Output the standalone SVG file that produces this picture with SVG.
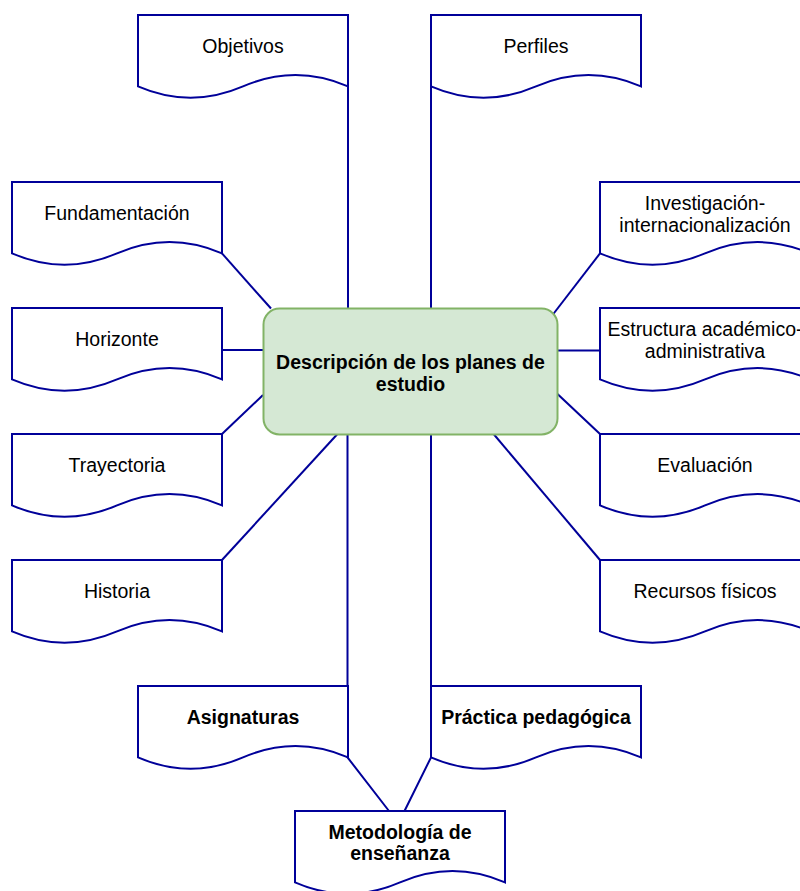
<svg xmlns="http://www.w3.org/2000/svg" xmlns:xlink="http://www.w3.org/1999/xlink" width="800" height="891" viewBox="0 0 800 891">
  <style>
    .doc { fill: #ffffff; stroke: #000099; stroke-width: 2; }
    .edge { fill: none; stroke: #000099; stroke-width: 2; }
    .lbl { font-family: "Liberation Sans", Arial, Helvetica, sans-serif; font-size: 19.5px; fill: #000000; text-anchor: middle; }
    .bold { font-weight: bold; }
    .center { fill: #d5e8d4; stroke: #82b366; stroke-width: 2; }
  </style>
  <defs>
    <!-- document shape: 210 x 84 with wavy bottom edge -->
    <path id="doc" d="M0,0 H210 V71.4 Q157.5,48.7 105,71.4 Q52.5,94.1 0,71.4 Z"/>
  </defs>
  <rect width="800" height="891" fill="#ffffff"/>

  <g id="connectors">
    <path class="edge" d="M348,86.4 V308.5"/>
    <path class="edge" d="M431,86.4 V308.5"/>
    <path class="edge" d="M222,253.4 L271,308.5"/>
    <path class="edge" d="M222,350 H263.5"/>
    <path class="edge" d="M222,434 L263,395"/>
    <path class="edge" d="M222,560 L337,434.5"/>
    <path class="edge" d="M347.5,434.5 V757.4 L389,811"/>
    <path class="edge" d="M431,434.5 V757.4 L404.5,811"/>
    <path class="edge" d="M600,253.4 L551,317"/>
    <path class="edge" d="M557.5,350.5 H600"/>
    <path class="edge" d="M557.5,394 L600,434"/>
    <path class="edge" d="M494,434.5 L600,560"/>
  </g>

  <g id="objetivos">
    <use href="#doc" class="doc" x="138" y="15"/>
    <text class="lbl" x="243" y="53">Objetivos</text>
  </g>
  <g id="perfiles">
    <use href="#doc" class="doc" x="431" y="15"/>
    <text class="lbl" x="536" y="53">Perfiles</text>
  </g>
  <g id="fundamentacion">
    <use href="#doc" class="doc" x="12" y="182"/>
    <text class="lbl" x="117" y="220">Fundamentación</text>
  </g>
  <g id="horizonte">
    <use href="#doc" class="doc" x="12" y="308"/>
    <text class="lbl" x="117" y="346">Horizonte</text>
  </g>
  <g id="trayectoria">
    <use href="#doc" class="doc" x="12" y="434"/>
    <text class="lbl" x="117" y="472">Trayectoria</text>
  </g>
  <g id="historia">
    <use href="#doc" class="doc" x="12" y="560"/>
    <text class="lbl" x="117" y="598">Historia</text>
  </g>
  <g id="investigacion">
    <use href="#doc" class="doc" x="600" y="182"/>
    <text class="lbl" x="705" y="210">Investigación-</text>
    <text class="lbl" x="705" y="232">internacionalización</text>
  </g>
  <g id="estructura">
    <use href="#doc" class="doc" x="600" y="308"/>
    <text class="lbl" x="705" y="336">Estructura académico-</text>
    <text class="lbl" x="705" y="358">administrativa</text>
  </g>
  <g id="evaluacion">
    <use href="#doc" class="doc" x="600" y="434"/>
    <text class="lbl" x="705" y="472">Evaluación</text>
  </g>
  <g id="recursos">
    <use href="#doc" class="doc" x="600" y="560"/>
    <text class="lbl" x="705" y="598">Recursos físicos</text>
  </g>
  <g id="asignaturas">
    <use href="#doc" class="doc" x="138" y="686"/>
    <text class="lbl bold" x="243" y="724">Asignaturas</text>
  </g>
  <g id="practica">
    <use href="#doc" class="doc" x="431" y="686"/>
    <text class="lbl bold" x="536" y="724">Práctica pedagógica</text>
  </g>
  <g id="metodologia">
    <use href="#doc" class="doc" x="295" y="811"/>
    <text class="lbl bold" x="400" y="838.5">Metodología de</text>
    <text class="lbl bold" x="400" y="860">enseñanza</text>
  </g>

  <g id="descripcion">
    <rect class="center" x="263.5" y="308.5" width="294" height="126" rx="16" ry="16"/>
    <text class="lbl bold" x="410.5" y="368.5">Descripción de los planes de</text>
    <text class="lbl bold" x="410.5" y="391">estudio</text>
  </g>
</svg>
